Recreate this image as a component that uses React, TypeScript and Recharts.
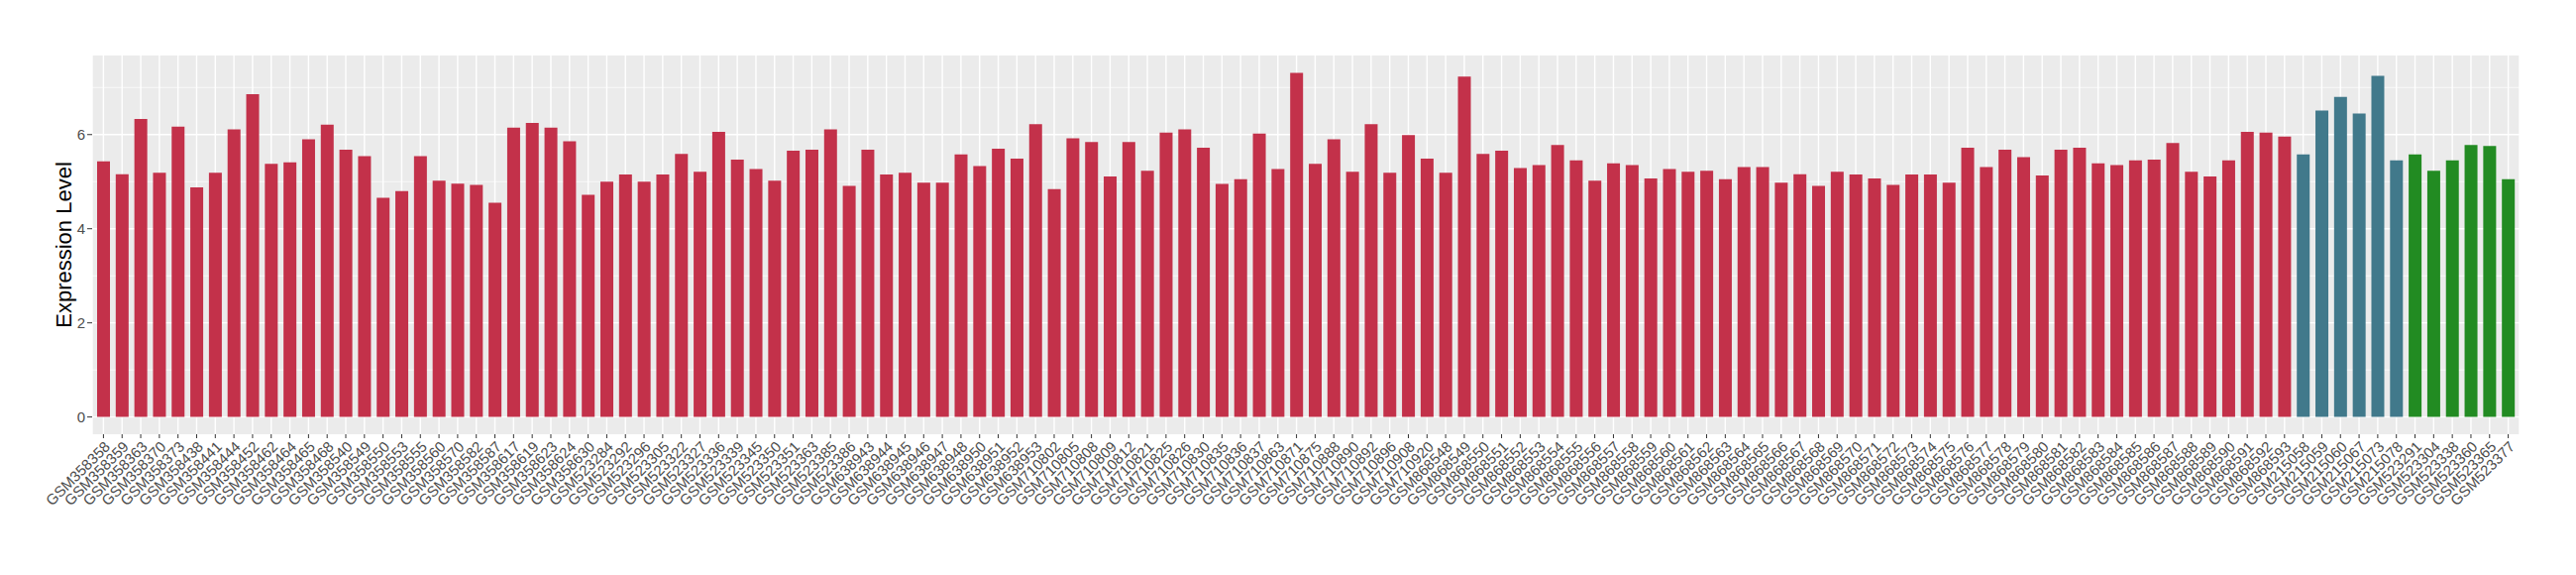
import React from 'react';
import { BarChart, Bar, Cell, XAxis, YAxis, CartesianGrid } from 'recharts';

// Sample groups, in plotting order
const redSamples = [
  'GSM358358', 'GSM358359', 'GSM358363', 'GSM358370', 'GSM358373', 'GSM358438', 'GSM358441', 'GSM358444',
  'GSM358452', 'GSM358462', 'GSM358464', 'GSM358465', 'GSM358468', 'GSM358540', 'GSM358549', 'GSM358550',
  'GSM358553', 'GSM358555', 'GSM358560', 'GSM358570', 'GSM358582', 'GSM358587', 'GSM358617', 'GSM358619',
  'GSM358623', 'GSM358624', 'GSM358630', 'GSM523284', 'GSM523292', 'GSM523296', 'GSM523305', 'GSM523322',
  'GSM523327', 'GSM523336', 'GSM523339', 'GSM523345', 'GSM523350', 'GSM523351', 'GSM523363', 'GSM523385',
  'GSM523386', 'GSM638943', 'GSM638944', 'GSM638945', 'GSM638946', 'GSM638947', 'GSM638948', 'GSM638950',
  'GSM638951', 'GSM638952', 'GSM638953', 'GSM710802', 'GSM710805', 'GSM710808', 'GSM710809', 'GSM710812',
  'GSM710821', 'GSM710825', 'GSM710826', 'GSM710830', 'GSM710835', 'GSM710836', 'GSM710837', 'GSM710863',
  'GSM710871', 'GSM710875', 'GSM710888', 'GSM710890', 'GSM710892', 'GSM710896', 'GSM710908', 'GSM710920',
  'GSM868548', 'GSM868549', 'GSM868550', 'GSM868551', 'GSM868552', 'GSM868553', 'GSM868554', 'GSM868555',
  'GSM868556', 'GSM868557', 'GSM868558', 'GSM868559', 'GSM868560', 'GSM868561', 'GSM868562', 'GSM868563',
  'GSM868564', 'GSM868565', 'GSM868566', 'GSM868567', 'GSM868568', 'GSM868569', 'GSM868570', 'GSM868571',
  'GSM868572', 'GSM868573', 'GSM868574', 'GSM868575', 'GSM868576', 'GSM868577', 'GSM868578', 'GSM868579',
  'GSM868580', 'GSM868581', 'GSM868582', 'GSM868583', 'GSM868584', 'GSM868585', 'GSM868586', 'GSM868587',
  'GSM868588', 'GSM868589', 'GSM868590', 'GSM868591', 'GSM868592', 'GSM868593',
];
const redValues = [
  5.43, 5.16, 6.33, 5.19, 6.17, 4.88, 5.19, 6.11, 6.86, 5.38, 5.41, 5.9, 6.21, 5.68, 5.54, 4.66,
  4.8, 5.54, 5.02, 4.96, 4.93, 4.55, 6.15, 6.25, 6.15, 5.86, 4.72, 5.0, 5.15, 5.0, 5.15, 5.59,
  5.21, 6.06, 5.47, 5.27, 5.02, 5.66, 5.68, 6.11, 4.91, 5.68, 5.15, 5.19, 4.98, 4.98, 5.58, 5.33,
  5.7, 5.49, 6.22, 4.84, 5.92, 5.84, 5.11, 5.84, 5.23, 6.04, 6.11, 5.72, 4.95, 5.05, 6.02, 5.27,
  7.31, 5.38, 5.9, 5.21, 6.22, 5.19, 5.99, 5.49, 5.19, 7.23, 5.59, 5.66, 5.29, 5.35, 5.78, 5.45,
  5.02, 5.39, 5.35, 5.07, 5.27, 5.21, 5.23, 5.05, 5.31, 5.31, 4.98, 5.16, 4.91, 5.21, 5.15, 5.07,
  4.93, 5.15, 5.15, 4.98, 5.72, 5.31, 5.68, 5.52, 5.13, 5.68, 5.72, 5.39, 5.35, 5.45, 5.47, 5.82,
  5.21, 5.11, 5.45, 6.06, 6.04, 5.96,
];

const blueSamples = ['GSM215058', 'GSM215059', 'GSM215060', 'GSM215067', 'GSM215073', 'GSM215078'];
const blueValues = [5.58, 6.51, 6.8, 6.45, 7.25, 5.45];

const greenSamples = ['GSM523291', 'GSM523304', 'GSM523338', 'GSM523360', 'GSM523365', 'GSM523377'];
const greenValues = [5.58, 5.23, 5.45, 5.78, 5.76, 5.05];

const COLORS = { red: '#C3314A', blue: '#41798B', green: '#228B22' };
const FONT = '"Liberation Sans", Arial, Helvetica, sans-serif';

const data = [
  ...redSamples.map((s, i) => ({ sample: s, value: redValues[i], group: 'red' })),
  ...blueSamples.map((s, i) => ({ sample: s, value: blueValues[i], group: 'blue' })),
  ...greenSamples.map((s, i) => ({ sample: s, value: greenValues[i], group: 'green' })),
];

const SampleTick = ({ x, y, payload }: any) => (
  <g transform={`translate(${x},${y})`}>
    <text
      textAnchor="end"
      transform="rotate(-45)"
      dy="0.71em"
      fontSize={15}
      fontFamily={FONT}
      fill="#4D4D4D"
    >
      {payload.value}
    </text>
  </g>
);

const YTitle = ({ viewBox }: any) => {
  const cx = 64;
  const cy = viewBox.y + viewBox.height / 2;
  return (
    <text
      x={cx}
      y={cy}
      transform={`rotate(-90 ${cx} ${cy})`}
      textAnchor="middle"
      dominantBaseline="central"
      fontSize={22}
      fontFamily={FONT}
      fill="#000"
    >
      Expression Level
    </text>
  );
};

export default function App() {
  return (
    <div>
      <style>{'body{margin:0;}'}</style>
      <BarChart
        width={2600}
        height={580}
        data={data}
        margin={{ top: 56, right: 57, left: 0, bottom: 0 }}
      >
        {/* panel background + minor grid */}
        <CartesianGrid
          fill="#EBEBEB"
          stroke="#FFFFFF"
          strokeWidth={0.7}
          vertical={false}
          horizontalValues={[1, 3, 5, 7]}
        />
        {/* major grid */}
        <CartesianGrid
          stroke="#FFFFFF"
          strokeWidth={1.4}
          horizontalValues={[0, 2, 4, 6]}
        />
        <XAxis
          dataKey="sample"
          interval={0}
          height={142}
          padding={{ left: 2, right: 2 }}
          axisLine={false}
          tickSize={4}
          tickMargin={2}
          tickLine={{ stroke: '#333333' }}
          tick={<SampleTick />}
        />
        <YAxis
          width={93}
          domain={[-0.366, 7.68]}
          allowDataOverflow
          ticks={[0, 2, 4, 6]}
          axisLine={false}
          tickSize={5}
          tickMargin={2}
          tickLine={{ stroke: '#333333' }}
          tick={{ fill: '#4D4D4D', fontSize: 15, fontFamily: FONT }}
          label={{ content: <YTitle /> }}
        />
        <Bar dataKey="value" barSize={13} isAnimationActive={false}>
          {data.map((d) => (
            <Cell key={d.sample} fill={COLORS[d.group as keyof typeof COLORS]} />
          ))}
        </Bar>
      </BarChart>
    </div>
  );
}
